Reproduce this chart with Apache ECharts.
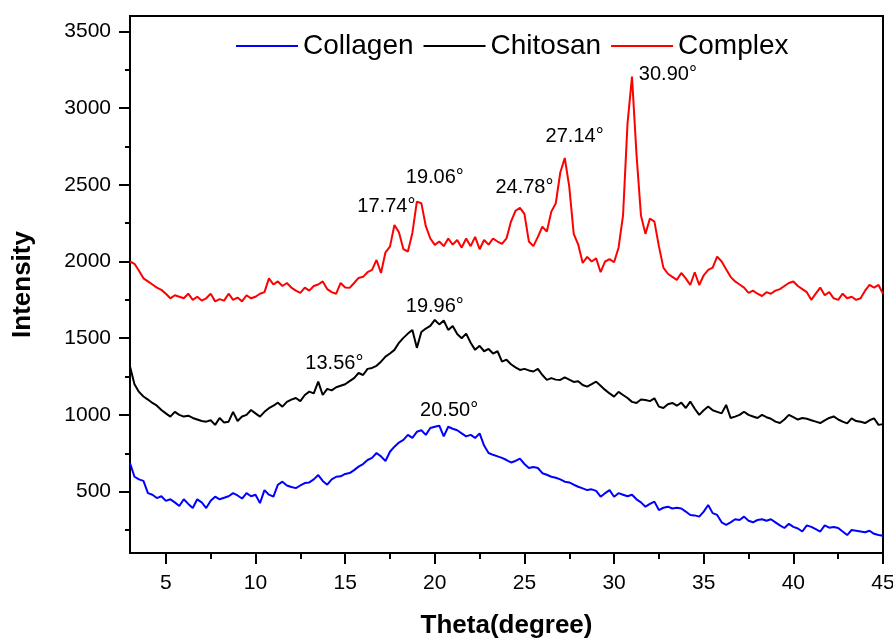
<!DOCTYPE html>
<html>
<head>
<meta charset="utf-8">
<script src="https://cdn.jsdelivr.net/npm/echarts@6/dist/echarts.min.js"></script>
<style>
html, body { margin: 0; padding: 0; background: #fff; }
#xrd { width: 893px; height: 639px; }
</style>
</head>
<body>
<div id="xrd"></div>
<script>
// sampling grid of the scans: 3.00 .. 45.00 deg, every 0.25 deg
const THETA_START = 3;
const THETA_STEP = 0.25;

// intensities, one row = 2.5 deg
const collagen = [
    687, 597, 580, 570, 490, 480, 458, 470, 440, 450,
    430, 406, 450, 420, 393, 450, 430, 393, 440, 467,
    450, 460, 470, 490, 475, 455, 490, 470, 480, 425,
    510, 480, 467, 545, 565, 540, 530, 523, 540, 556,
    560, 580, 608, 570, 545, 580, 597, 600, 615, 621,
    640, 663, 680, 706, 720, 752, 730, 700, 760, 793,
    820, 837, 870, 850, 890, 900, 870, 915, 923, 930,
    860, 923, 910, 900, 880, 860, 870, 850, 880, 800,
    752, 740, 730, 720, 706, 690, 700, 715, 680, 654,
    660, 654, 620, 610, 597, 590, 580, 565, 560, 545,
    532, 521, 510, 515, 505, 467, 490, 510, 467, 490,
    480, 470, 480, 450, 430, 402, 420, 435, 380, 395,
    402, 390, 395, 390, 370, 348, 345, 337, 370, 413,
    360, 348, 300, 283, 300, 320, 315, 337, 310, 300,
    315, 320, 310, 320, 300, 280, 263, 290, 270, 260,
    240, 280, 270, 255, 240, 280, 265, 270, 263, 240,
    217, 250, 245, 240, 235, 245, 225, 217, 212
];

const chitosan = [
    1315, 1200, 1150, 1120, 1100, 1078, 1060, 1032, 1010, 989,
    1020, 1000, 989, 995, 980, 970, 960, 956, 965, 935,
    980, 950, 956, 1020, 960, 990, 1000, 1032, 1010, 989,
    1020, 1044, 1060, 1080, 1054, 1085, 1100, 1110, 1090, 1130,
    1152, 1140, 1217, 1130, 1170, 1160, 1180, 1190, 1200, 1220,
    1240, 1273, 1260, 1300, 1306, 1320, 1347, 1380, 1400, 1424,
    1470, 1502, 1530, 1554, 1437, 1540, 1563, 1580, 1619, 1590,
    1615, 1554, 1580, 1527, 1500, 1530, 1470, 1424, 1450, 1415,
    1430, 1400, 1415, 1347, 1360, 1330, 1310, 1293, 1300, 1290,
    1283, 1300, 1260, 1228, 1240, 1230, 1228, 1245, 1230, 1215,
    1220, 1195, 1184, 1200, 1217, 1190, 1163, 1140, 1119, 1150,
    1130, 1110, 1085, 1078, 1100, 1097, 1090, 1108, 1054, 1045,
    1070, 1078, 1060, 1080, 1045, 1087, 1040, 1000, 1030, 1055,
    1030, 1020, 1010, 1065, 980, 989, 1000, 1021, 1000, 990,
    980, 1000, 985, 975, 956, 947, 970, 1000, 985, 970,
    980, 975, 965, 956, 947, 965, 980, 990, 970, 956,
    945, 978, 960, 955, 947, 965, 978, 935, 940
];

const complex = [
    2000, 1985, 1940, 1890, 1870, 1850, 1830, 1815, 1790, 1760,
    1780, 1770, 1760, 1790, 1750, 1770, 1745, 1760, 1790, 1740,
    1755, 1745, 1790, 1750, 1765, 1740, 1780, 1760, 1770, 1790,
    1800, 1890, 1850, 1870, 1840, 1860, 1830, 1810, 1795, 1830,
    1810, 1840, 1850, 1870, 1820, 1800, 1790, 1860, 1830, 1828,
    1860, 1893, 1900, 1930, 1945, 2010, 1925, 2060, 2097, 2238,
    2190, 2080, 2065, 2186, 2390, 2380, 2230, 2150, 2108, 2130,
    2100, 2150, 2110, 2140, 2090, 2150, 2100, 2160, 2080, 2140,
    2110, 2150, 2130, 2115, 2150, 2260, 2330, 2350, 2310, 2130,
    2100, 2160, 2227, 2195, 2325, 2380, 2580, 2675, 2488, 2180,
    2110, 1990, 2030, 2000, 2020, 1930, 2000, 2015, 1995, 2090,
    2300, 2900, 3205, 2700, 2300, 2180, 2280, 2260, 2100, 1960,
    1920, 1900, 1880, 1925, 1890, 1847, 1930, 1847, 1910, 1945,
    1960, 2032, 2000, 1950, 1900, 1870, 1850, 1830, 1795, 1810,
    1790, 1775, 1800, 1790, 1810, 1820, 1840, 1860, 1870, 1840,
    1820, 1800, 1750, 1790, 1830, 1780, 1800, 1760, 1750, 1790,
    1760, 1770, 1750, 1760, 1810, 1847, 1830, 1847, 1790
];

// peak labels and where their text sits (theta, intensity)
const peakLabels = ['30.90°', '27.14°', '24.78°', '19.06°', '17.74°', '19.96°', '13.56°', '20.50°'];
const peakX = [33.0, 27.8, 25.0, 20.0, 17.3, 20.0, 14.4, 20.8];
const peakY = [3217, 2812, 2480, 2545, 2356, 1704, 1332, 1032];

const xMajor = [5, 10, 15, 20, 25, 30, 35, 40, 45];
const xMinor = [7.5, 12.5, 17.5, 22.5, 27.5, 32.5, 37.5, 42.5];
const yMajor = [500, 1000, 1500, 2000, 2500, 3000, 3500];
const yMinor = [250, 750, 1250, 1750, 2250, 2750, 3250];

function pairs(values) {
    return values.map(function (v, i) {
        return [THETA_START + i * THETA_STEP, v];
    });
}

let xrdDom = document.getElementById('xrd');
let xrdChart = echarts.init(xrdDom);

const FONT = 'Liberation Sans, Arial, sans-serif';
const black = '#000';

let xrdOption = {
    animation: false,
    grid: {
        left: 130, right: 10, top: 16, bottom: 86,
        outerBoundsMode: 'none',
        show: true, borderColor: black, borderWidth: 2
    },
    legend: {
        data: ['Collagen', 'Chitosan', 'Complex'],
        left: 231, top: 27,
        icon: 'rect', itemWidth: 62, itemHeight: 2, itemGap: 10,
        textStyle: { fontSize: 28, color: black, fontFamily: FONT }
    },
    xAxis: [
        {
            type: 'value', min: 3, max: 45, position: 'bottom',
            axisLine: { lineStyle: { color: black, width: 2 } },
            axisTick: { customValues: xMajor, length: 11, lineStyle: { color: black, width: 2 } },
            axisLabel: { customValues: xMajor, fontSize: 21, color: black, margin: 20, fontFamily: FONT },
            splitLine: { show: false },
            name: 'Theta(degree)', nameLocation: 'middle', nameGap: 60,
            nameTextStyle: { fontSize: 26, fontWeight: 'bold', color: black, fontFamily: FONT }
        },
        {
            type: 'value', min: 3, max: 45, position: 'bottom',
            axisLine: { show: false },
            axisTick: { customValues: xMinor, length: 6, lineStyle: { color: black, width: 2 } },
            axisLabel: { show: false },
            splitLine: { show: false }
        }
    ],
    yAxis: [
        {
            type: 'value', min: 100, max: 3600, position: 'left',
            axisLine: { show: true, lineStyle: { color: black, width: 2 } },
            axisTick: { show: true, customValues: yMajor, length: 11, lineStyle: { color: black, width: 2 } },
            axisLabel: {
                customValues: yMajor, fontSize: 21, color: black, margin: 19, fontFamily: FONT,
                formatter: function (v) { return String(v); }
            },
            splitLine: { show: false },
            name: 'Intensity', nameLocation: 'middle', nameRotate: 90, nameGap: 94,
            nameTextStyle: { fontSize: 26, fontWeight: 'bold', color: black, fontFamily: FONT }
        },
        {
            type: 'value', min: 100, max: 3600, position: 'left',
            axisLine: { show: false },
            axisTick: { show: true, customValues: yMinor, length: 5, lineStyle: { color: black, width: 2 } },
            axisLabel: { show: false },
            splitLine: { show: false }
        }
    ],
    series: [
        {
            name: 'Collagen', type: 'line', data: pairs(collagen),
            showSymbol: false, color: '#0000ff',
            lineStyle: { color: '#0000ff', width: 2 }
        },
        {
            name: 'Chitosan', type: 'line', data: pairs(chitosan),
            showSymbol: false, color: black,
            lineStyle: { color: black, width: 2 }
        },
        {
            name: 'Complex', type: 'line', data: pairs(complex),
            showSymbol: false, color: '#ff0000',
            lineStyle: { color: '#ff0000', width: 2 }
        },
        {
            name: 'peaks', type: 'scatter', silent: true,
            symbolSize: 0, itemStyle: { color: black, opacity: 1 },
            label: {
                show: true, position: 'inside', opacity: 1,
                fontSize: 20, color: black, fontFamily: FONT
            },
            data: peakX.map(function (x, i) {
                return { value: [x, peakY[i]], label: { formatter: peakLabels[i] } };
            })
        }
    ]
};

xrdOption && xrdChart.setOption(xrdOption);
</script>
</body>
</html>
